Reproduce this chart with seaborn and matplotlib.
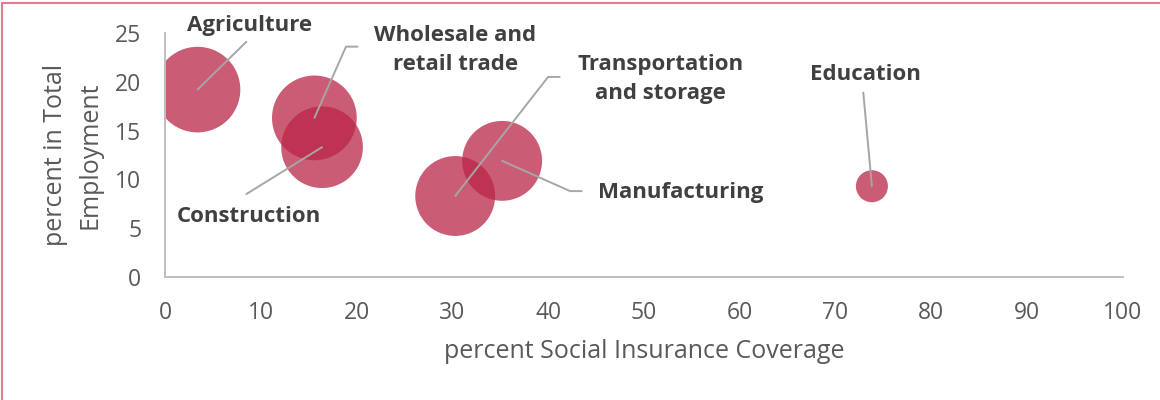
import pandas as pd
import seaborn as sns
import matplotlib.pyplot as plt

# data
sectors = ['Agriculture', 'Wholesale and\nretail trade', 'Construction',
           'Transportation\nand storage', 'Manufacturing', 'Education']
coverage = [3.4, 15.6, 16.4, 30.3, 35.2, 73.8]
employment = [19.2, 16.3, 13.3, 8.3, 11.9, 9.3]
bubble_size = [100, 98, 91, 87, 87, 14]

# label placement: (label x, label y, leader path points)
label_layout = {
    'Agriculture': (8.8, 25.8, [(8.5, 24.1)]),
    'Wholesale and\nretail trade': (30.3, 23.3, [(18.9, 23.6), (20.1, 23.6)]),
    'Construction': (8.8, 6.25, [(8.5, 8.5)]),
    'Transportation\nand storage': (51.7, 20.3, [(40.0, 20.5), (41.2, 20.5)]),
    'Manufacturing': (53.8, 8.7, [(42.3, 8.8), (43.5, 8.8)]),
    'Education': (73.1, 20.7, [(72.9, 18.9)]),
}

df = pd.DataFrame({'sector': sectors, 'coverage': coverage,
                   'employment': employment, 'size': bubble_size})

sns.set_style('white')
plt.rcParams['font.family'] = ['Open Sans', 'DejaVu Sans']

fig = plt.figure(figsize=(11.6, 4.0), dpi=100)
ax = fig.add_axes([0.1422, 0.3075, 0.968 - 0.1422, 0.9175 - 0.3075])

sns.scatterplot(data=df, x='coverage', y='employment', size='size',
                sizes=(0, 3800), size_norm=(0, 100), color='#BA2647',
                alpha=0.75, linewidth=0, legend=False, ax=ax)

for name, cx, cy in zip(sectors, coverage, employment):
    lx, ly, path = label_layout[name]
    pts = [(cx, cy)] + path
    ax.plot([p[0] for p in pts], [p[1] for p in pts], color='#A6A6A6',
            linewidth=1.4, clip_on=False, zorder=3)
    ax.text(lx, ly, name, ha='center', va='center', fontsize=16,
            fontweight='bold', color='#404040', linespacing=1.5,
            clip_on=False, zorder=4)

ax.set_xlim(0, 100)
ax.set_ylim(0, 25)
ax.set_xticks(range(0, 101, 10))
ax.set_yticks(range(0, 26, 5))
ax.tick_params(length=0, labelsize=16.5, colors='#595959', pad=17)
ax.set_xlabel('percent Social Insurance Coverage', fontsize=18,
              color='#595959', labelpad=10)
ax.set_ylabel('percent in Total\nEmployment', fontsize=18,
              color='#595959', labelpad=9, linespacing=1.5)
for side in ['top', 'right']:
    ax.spines[side].set_visible(False)
for side in ['left', 'bottom']:
    ax.spines[side].set_color('#BFBFBF')
    ax.spines[side].set_linewidth(1.4)

# pink outer frame (only left and top edges are visible in the crop)
fig.add_artist(plt.Line2D([0.002, 0.002], [0, 0.992], color='#E07C8E',
                          linewidth=1.5, transform=fig.transFigure))
fig.add_artist(plt.Line2D([0.002, 1], [0.992, 0.992], color='#E07C8E',
                          linewidth=1.5, transform=fig.transFigure))

fig.savefig('out.png', dpi=100)
